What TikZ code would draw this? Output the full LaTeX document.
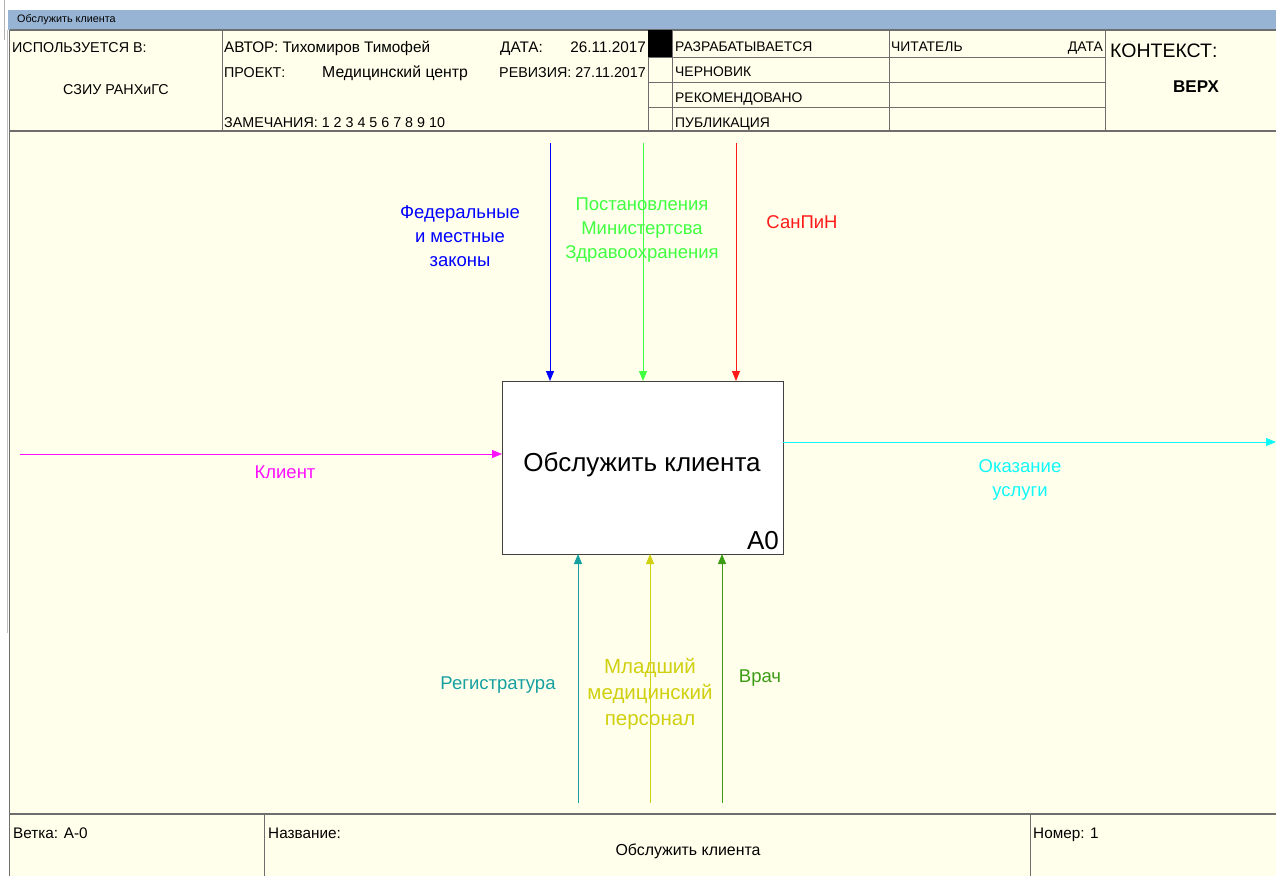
\documentclass[tikz,border=0pt]{standalone}
\usepackage{fontspec}
\setmainfont{Liberation Sans}
\usetikzlibrary{arrows.meta}
\definecolor{bg}{HTML}{FFFFEC}
\definecolor{titlebar}{HTML}{98B4D4}
\definecolor{frameline}{HTML}{6E6E6E}
\definecolor{cblue}{HTML}{0000FF}
\definecolor{clgreen}{HTML}{40FF40}
\definecolor{cred}{HTML}{FF1A1A}
\definecolor{cmag}{HTML}{FF10FF}
\definecolor{ccyan}{HTML}{10F8F8}
\definecolor{cteal}{HTML}{16A0A0}
\definecolor{colive}{HTML}{D0D010}
\definecolor{cdgreen}{HTML}{3C9C14}
\tikzset{
  frm/.style={draw=frameline, line width=1.2pt},
  thin/.style={draw=frameline, line width=0.9pt},
  hdr/.style={anchor=base west, inner sep=0pt, font=\fontsize{14.3}{16}\selectfont},
  hdrl/.style={hdr, font=\fontsize{15.3}{17}\selectfont},
  lbl/.style={align=center, inner sep=0pt, font=\fontsize{18.5}{24}\selectfont},
  flow/.style={line width=1pt, -{Triangle[length=10pt,width=8pt]}},
}
\begin{document}
\begin{tikzpicture}[x=1pt,y=-1pt]
\useasboundingbox (0,0) rectangle (1276,876);
\fill[white] (0,0) rectangle (1276,876);
\fill[bg] (9,30) rectangle (1276,876);
\fill[titlebar] (8,10) rectangle (1276,30);
\draw[gray!60, line width=0.8pt] (4,0) -- (4,40);
\draw[gray!50, line width=0.8pt] (7,30) -- (7,633);
\node[anchor=west, inner sep=0pt, font=\fontsize{10.8}{12}\selectfont] (ttl) at (17,19.5) {Обслужить клиента};
% frame
\draw[frm] (9.5,30) -- (9.5,876);
\draw[frm] (9.5,30) -- (1276,30);
\draw[frm] (9.5,131) -- (1276,131);
\draw[frm] (9.5,814) -- (1276,814);
\foreach \x in {222,648,672,889,1105} \draw[thin] (\x,30) -- (\x,131);
\foreach \y in {57,82,107} \draw[thin] (648,\y) -- (1105,\y);
\fill[black] (648,30) rectangle (672,57);
\foreach \x in {264,1030} \draw[thin] (\x,814) -- (\x,876);
% header texts
\node[hdr] (used) at (12,52) {ИСПОЛЬЗУЕТСЯ В:};
\node[hdr, anchor=base] (org) at (116,94) {СЗИУ РАНХиГС};
\node[hdrl] (author) at (224,52) {АВТОР: Тихомиров Тимофей};
\node[hdr] (proj) at (224,77) {ПРОЕКТ:};
\node[hdrl, font=\fontsize{15.8}{17}\selectfont] (projn) at (322,77) {Медицинский центр};
\node[hdr] (notes) at (224,127) {ЗАМЕЧАНИЯ: 1 2 3 4 5 6 7 8 9 10};
\node[hdrl] (date) at (500,52) {ДАТА:};
\node[hdrl, anchor=base east] (dateval) at (646,52) {26.11.2017};
\node[hdr, anchor=base east] (rev) at (646,77) {РЕВИЗИЯ: 27.11.2017};
\node[hdr, font=\fontsize{13.9}{16}\selectfont] (st1) at (675,51) {РАЗРАБАТЫВАЕТСЯ};
\node[hdr, font=\fontsize{13.9}{16}\selectfont] (st2) at (675,76) {ЧЕРНОВИК};
\node[hdr, font=\fontsize{13.9}{16}\selectfont] (st3) at (675,102) {РЕКОМЕНДОВАНО};
\node[hdr, font=\fontsize{13.9}{16}\selectfont] (st4) at (675,127) {ПУБЛИКАЦИЯ};
\node[hdr, font=\fontsize{13.9}{16}\selectfont] (reader) at (891,51) {ЧИТАТЕЛЬ};
\node[hdr, font=\fontsize{13.9}{16}\selectfont, anchor=base east] (rdate) at (1103,51) {ДАТА};
\node[hdr, font=\fontsize{19.5}{22}\selectfont] (ctx) at (1110,57) {КОНТЕКСТ:};
\node[hdr, anchor=base, font=\fontsize{17}{19}\bfseries] (top) at (1196,92) {ВЕРХ};
% footer texts
\node[hdrl] (branch) at (13,838) {Ветка: А-0};
\node[hdrl] (name) at (268,838) {Название:};
\node[hdrl, anchor=base, font=\fontsize{15.9}{18}\selectfont] (namev) at (688,855) {Обслужить клиента};
\node[hdrl] (num) at (1033,838) {Номер: 1};
% main box
\node[draw=black!75, line width=1pt, fill=white, minimum width=281pt, minimum height=173pt, inner sep=0pt, outer sep=0pt, anchor=north west] (a0) at (502,381) {};
\node[inner sep=0pt, font=\fontsize{26}{30}\selectfont] (a0t) at (642,465) {Обслужить клиента};
\node[anchor=south east, inner sep=0pt, font=\fontsize{26}{30}\selectfont] (a0n) at (779,550) {A0};
% controls
\coordinate (c1) at (550,143);
\coordinate (c2) at (643,143);
\coordinate (c3) at (736,143);
\draw[flow, cblue] (c1) -- (c1 |- a0.north);
\draw[flow, clgreen] (c2) -- (c2 |- a0.north);
\draw[flow, cred] (c3) -- (c3 |- a0.north);
\node[lbl, text=cblue] (l1) at (460,236) {Федеральные\\и местные\\законы};
\node[lbl, text=clgreen] (l2) at (642,230) {Постановления\\Министертсва\\Здравоохранения};
\node[lbl, text=cred] (l3) at (802,222) {СанПиН};
% input / output
\coordinate (in1) at (20,454);
\draw[flow, cmag] (in1) -- (in1 -| a0.west);
\node[lbl, text=cmag] (l4) at (285,472) {Клиент};
\coordinate (out1) at (1276,442);
\draw[flow, ccyan] (out1 -| a0.east) -- (out1);
\node[lbl, text=ccyan] (l5) at (1020,480) {Оказание\\услуги};
% mechanisms
\coordinate (m1) at (578,803);
\coordinate (m2) at (650,803);
\coordinate (m3) at (722,803);
\draw[flow, cteal] (m1) -- (m1 |- a0.south);
\draw[flow, colive] (m2) -- (m2 |- a0.south);
\draw[flow, cdgreen] (m3) -- (m3 |- a0.south);
\node[lbl, text=cteal] (l6) at (498,685) {Регистратура};
\node[lbl, text=colive, font=\fontsize{20.5}{26}\selectfont] (l7) at (650,694) {Младший\\медицинский\\персонал};
\node[lbl, text=cdgreen] (l8) at (760,678) {Врач};
\end{tikzpicture}
\end{document}
